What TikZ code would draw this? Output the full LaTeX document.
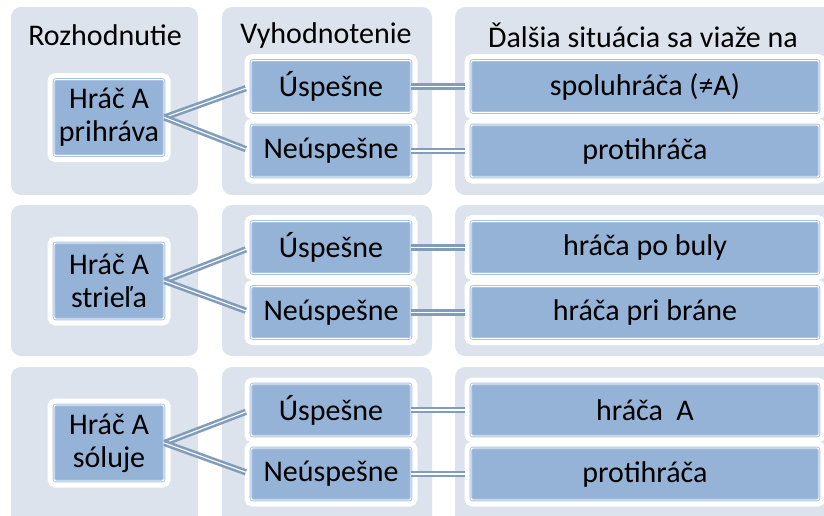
\documentclass[tikz,border=0pt]{standalone}
\usepackage{fontspec}
\setmainfont{Carlito}
\usetikzlibrary{positioning}

\definecolor{panelbg}{HTML}{DCE3ED}
\definecolor{boxfill}{HTML}{95B3D7}
\definecolor{boxline}{HTML}{A9C2E0}
\definecolor{linkcol}{HTML}{819DBB}

\begin{document}
\begin{tikzpicture}[x=1pt, y=-1pt,
    panel/.style={fill=panelbg, rounded corners=10pt},
    head/.style={font=\fontsize{30}{33}\selectfont},
    box/.style={rectangle, rounded corners=2pt, fill=boxfill, draw=boxline,
      line width=0.9pt, double=white, double distance=0.9pt,
      preaction={draw=white, line width=13pt},
      font=\fontsize{30}{33}\selectfont, align=center, inner sep=0pt},
    dec/.style={box, minimum width=110pt, minimum height=76pt},
    eval/.style={box, minimum width=160pt, minimum height=52pt},
    res/.style={box, minimum width=348pt, minimum height=52pt},
    link/.style={draw=linkcol, line width=2.6pt, double=white, double distance=1.1pt}]
		\useasboundingbox (0,0) rectangle (824,515);

		% background panels
		\fill[panel] (11,7)   rectangle (198,195);
		\fill[panel] (222,7)  rectangle (432,195);
		\fill[panel] (455,7)  rectangle (840,195);
		\fill[panel] (11,205)  rectangle (198,356);
		\fill[panel] (222,205) rectangle (432,356);
		\fill[panel] (455,205) rectangle (840,356);
		\fill[panel] (11,367)  rectangle (198,530);
		\fill[panel] (222,367) rectangle (432,530);
		\fill[panel] (455,367) rectangle (840,530);

		\node[head] (hdec)  at (105,35) {Rozhodnutie};
		\node[head] (heval) at (326,35) {Vyhodnotenie};
		\node[head] (hres)  at (643,35) {Ďalšia situácia sa viaže na};

		% pass
		\node[dec]  (pass)   at (109,117.5) {Hráč A\\prihráva};
		\node[eval] (passok) at (331,86.5)  {Úspešne};
		\node[eval] (passno) at (331,151)   {Neúspešne};
		\node[res]  (mate)   at (645,86.5)  {spoluhráča (≠A)};
		\node[res]  (opp)    at (645,151)   {protihráča};

		% shot
		\node[dec]  (shot)   at (109,281)   {Hráč A\\strieľa};
		\node[eval] (shotok) at (331,247.5) {Úspešne};
		\node[eval] (shotno) at (331,312.5) {Neúspešne};
		\node[res]  (faceoff) at (645,247.5) {hráča po buly};
		\node[res]  (goalie) at (645,312.5) {hráča pri bráne};

		% solo
		\node[dec]  (solo)   at (109,443)   {Hráč A\\sóluje};
		\node[eval] (solook) at (331,410)   {Úspešne};
		\node[eval] (solono) at (331,474)   {Neúspešne};
		\node[res]  (self)   at (645,410)   {hráča~~A};
		\node[res]  (opp2)   at (645,474)   {protihráča};

		\draw[link, shorten >=5pt] (pass.east) -- (passok.west);
		\draw[link, shorten >=5pt] (pass.east) -- (passno.west);
		\draw[link, shorten >=6pt] (passok.east) -- (mate.west);
		\draw[link, shorten >=6pt] (passno.east) -- (opp.west);

		\draw[link, shorten >=5pt] (shot.east) -- (shotok.west);
		\draw[link, shorten >=5pt] (shot.east) -- (shotno.west);
		\draw[link, shorten >=6pt] (shotok.east) -- (faceoff.west);
		\draw[link, shorten >=6pt] (shotno.east) -- (goalie.west);

		\draw[link, shorten >=5pt] (solo.east) -- (solook.west);
		\draw[link, shorten >=5pt] (solo.east) -- (solono.west);
		\draw[link, shorten >=6pt] (solook.east) -- (self.west);
		\draw[link, shorten >=6pt] (solono.east) -- (opp2.west);
\end{tikzpicture}
\end{document}
